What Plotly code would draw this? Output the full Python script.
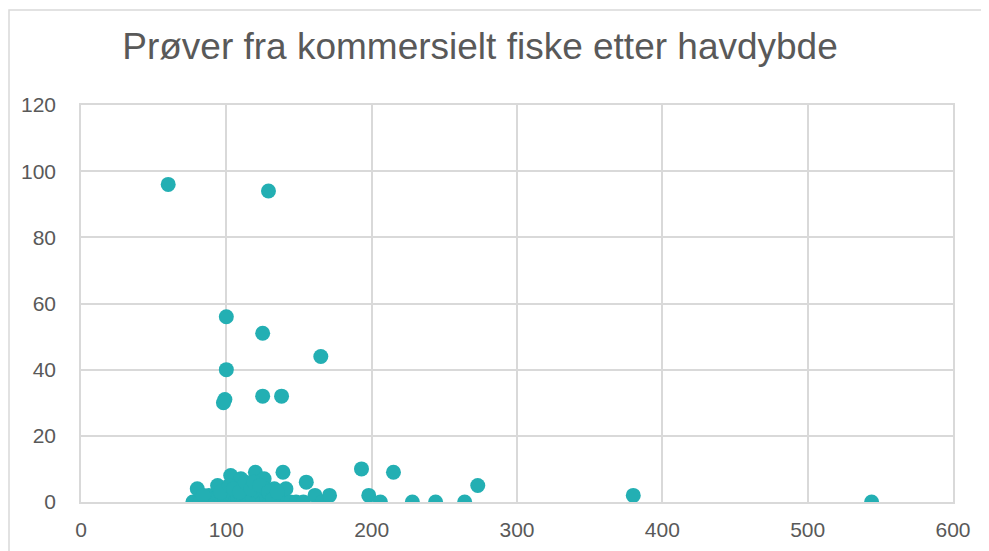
import plotly.graph_objects as go

# Data: depth (x) vs value (y)
depth = [60, 129, 100, 125, 165, 100, 99, 98, 125, 138,
         193, 215, 198, 206, 228, 244, 264, 273, 380, 544,
         77, 80, 82, 86, 88, 90, 92, 94, 95, 97, 99, 100, 101, 103, 104,
         106, 107, 108, 110, 111, 112, 114, 115, 116, 118, 120, 121, 122,
         124, 125, 126, 127, 128, 130, 131, 133, 134, 136, 137, 139, 140,
         141, 144, 148, 153, 155, 161, 166, 171,
         84, 96, 102, 105, 109, 113, 117, 119, 123, 129, 132, 135]
value = [96, 94, 56, 51, 44, 40, 31, 30, 32, 32,
         10, 9, 2, 0, 0, 0, 0, 5, 2, 0,
         0, 4, 0, 1, 2, 0, 1, 5, 2, 0, 1, 3, 0, 8, 2,
         0, 4, 1, 7, 0, 3, 2, 0, 5, 1, 9, 0, 3,
         2, 0, 7, 4, 1, 0, 2, 4, 0, 1, 2, 9, 0,
         4, 0, 0, 0, 6, 2, 0, 2,
         2, 3, 5, 4, 3, 6, 4, 6, 5, 3, 1, 3]

title_text = "Prøver fra kommersielt fiske etter havdybde"
x_ticks = [0, 100, 200, 300, 400, 500, 600]
y_ticks = [0, 20, 40, 60, 80, 100, 120]

grid = "#D9D9D9"
txt = "#595959"

fig = go.Figure()
fig.add_trace(go.Scatter(
    x=depth, y=value, mode="markers",
    marker=dict(size=15, color="#23AFB3", line=dict(width=0)),
    showlegend=False, hoverinfo="x+y",
))

fig.update_layout(
    width=989, height=551,
    margin=dict(l=73, r=44, t=97, b=57),
    paper_bgcolor="white", plot_bgcolor="white",
    font=dict(family="Liberation Sans, Arial, sans-serif", color=txt),
    title=dict(text=title_text, x=472/989, xanchor="center",
               y=1 - 38/551, yanchor="middle", yref="container",
               font=dict(size=37, color=txt)),
    xaxis=dict(range=[0, 600], tickvals=x_ticks, showgrid=True, gridcolor=grid,
               gridwidth=1.5, zeroline=False, showline=True, mirror=True,
               linecolor=grid, linewidth=1.5, tickfont=dict(size=21, color=txt),
               ticks="", ticklabelstandoff=8, fixedrange=True),
    yaxis=dict(range=[0, 120], tickvals=y_ticks, showgrid=True, gridcolor=grid,
               gridwidth=1.5, zeroline=False, showline=True, mirror=True,
               linecolor=grid, linewidth=1.5, tickfont=dict(size=21, color=txt),
               ticks="", ticklabelstandoff=19, fixedrange=True),
    shapes=[dict(type="rect", xref="paper", yref="paper",
                 x0=-72 / 872, x1=1.2, y0=-0.3, y1=(494 - 2) / 397,
                 line=dict(color=grid, width=1.5), layer="below")],
)

fig.write_html("out.html")
